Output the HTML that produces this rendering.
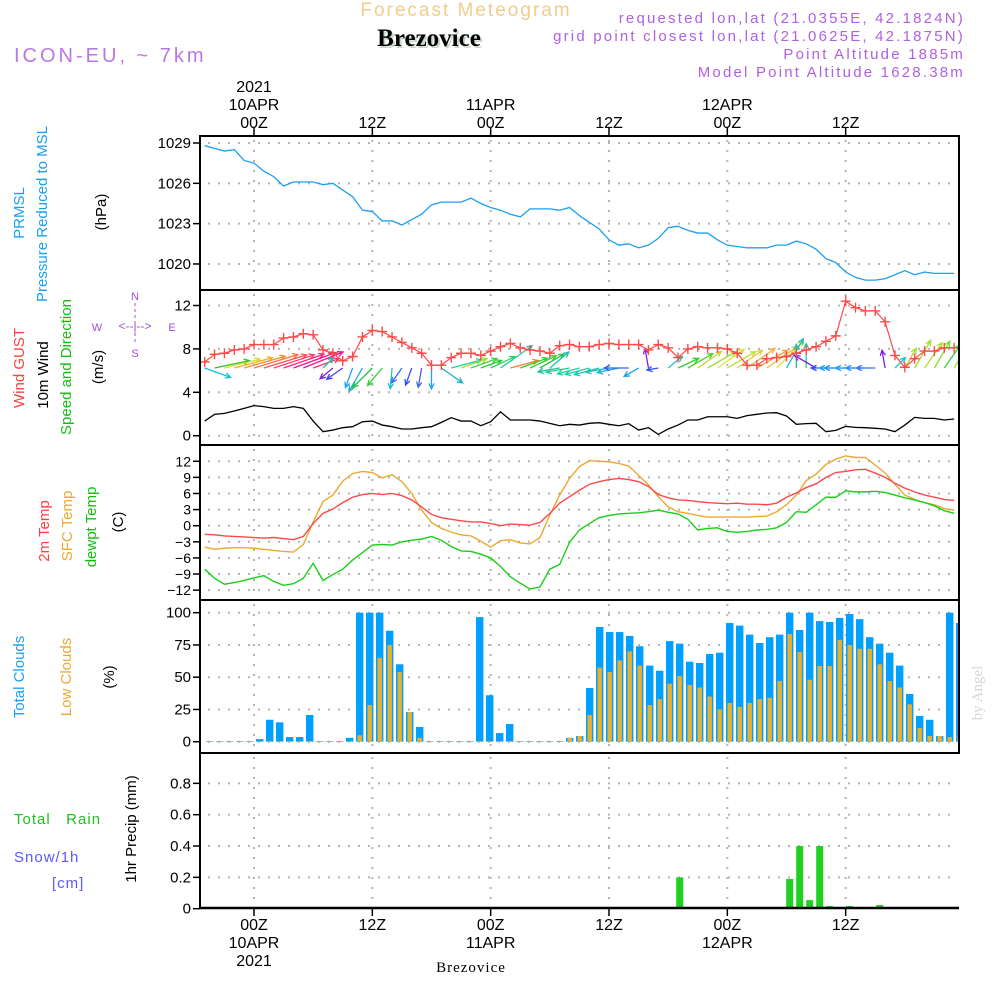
<!DOCTYPE html>
<html><head><meta charset="utf-8">
<style>
html,body{margin:0;padding:0;background:#fff;}
svg{display:block;font-family:"Liberation Sans",sans-serif;}
</style></head>
<body>
<svg id="chart" width="1000" height="1000" viewBox="0 0 1000 1000" xmlns="http://www.w3.org/2000/svg">
<defs><clipPath id="plotclip"><rect x="200" y="130" width="759" height="790"/></clipPath></defs>
<rect x="0" y="0" width="1000" height="1000" fill="#fff"/>
<!-- header -->
<text x="466" y="16" font-size="19" fill="#f2cc8a" text-anchor="middle" letter-spacing="2">Forecast Meteogram</text>
<text x="431" y="48" font-size="25" font-weight="bold" font-family="Liberation Serif,serif" fill="#c8d8c8" text-anchor="middle">Brezovice</text>
<text x="429" y="46" font-size="25" font-weight="bold" font-family="Liberation Serif,serif" fill="#000" text-anchor="middle">Brezovice</text>
<text x="14" y="62" font-size="20" fill="#b878e8" letter-spacing="3">ICON-EU, ~ 7km</text>
<g font-size="15" fill="#b060e0" text-anchor="end" letter-spacing="2.2">
<text x="965" y="23">requested lon,lat (21.0355E, 42.1824N)</text>
<text x="965" y="41">grid point closest lon,lat (21.0625E, 42.1875N)</text>
<text x="965" y="59">Point Altitude 1885m</text>
<text x="965" y="77">Model Point Altitude 1628.38m</text>
</g>
<!-- left labels -->
<g font-size="15">
<text transform="translate(24,213) rotate(-90)" text-anchor="middle" fill="#1aa0f0">PRMSL</text>
<text transform="translate(47,214) rotate(-90)" text-anchor="middle" fill="#1aa0f0">Pressure  Reduced to MSL</text>
<text transform="translate(106,212) rotate(-90)" text-anchor="middle" fill="#000">(hPa)</text>
<text transform="translate(24,368) rotate(-90)" text-anchor="middle" fill="#ff4040">Wind GUST</text>
<text transform="translate(48,375) rotate(-90)" text-anchor="middle" fill="#000">10m Wind</text>
<text transform="translate(71,367) rotate(-90)" text-anchor="middle" fill="#10c010">Speed and Direction</text>
<text transform="translate(103,367) rotate(-90)" text-anchor="middle" fill="#000">(m/s)</text>
<text transform="translate(49,531) rotate(-90)" text-anchor="middle" fill="#ff4040">2m Temp</text>
<text transform="translate(72,526) rotate(-90)" text-anchor="middle" fill="#f0a830">SFC Temp</text>
<text transform="translate(96,527) rotate(-90)" text-anchor="middle" fill="#10c010">dewpt Temp</text>
<text transform="translate(123,522) rotate(-90)" text-anchor="middle" fill="#000">(C)</text>
<text transform="translate(24,677) rotate(-90)" text-anchor="middle" fill="#1aa0f0">Total Clouds</text>
<text transform="translate(71,677) rotate(-90)" text-anchor="middle" fill="#f0a830">Low Clouds</text>
<text transform="translate(114,677) rotate(-90)" text-anchor="middle" fill="#000">(%)</text>
<text transform="translate(136,829) rotate(-90)" text-anchor="middle" fill="#000">1hr Precip (mm)</text>
<text x="14" y="824" fill="#20c020" letter-spacing="1" xml:space="preserve">Total   Rain</text>
<text x="14" y="862" fill="#5a5aff" letter-spacing="1">Snow/1h</text>
<text x="52" y="888" fill="#5a5aff" letter-spacing="1">[cm]</text>
</g>
<g fill="#a050e0" font-size="11" text-anchor="middle">
<text x="135" y="300">N</text><text x="135" y="357">S</text>
<text x="97" y="331">W</text><text x="172" y="331">E</text>
<text x="135" y="330" font-size="12">&lt;--|--&gt;</text>
<line x1="135" y1="303" x2="135" y2="345" stroke="#a050e0" stroke-dasharray="3,3"/>
</g>
<text transform="translate(982,693) rotate(-90)" font-family="Liberation Serif,serif" font-size="15" fill="#d0d8d0" text-anchor="middle">by Angel</text>
<text x="471" y="972" font-family="Liberation Serif,serif" font-size="15" fill="#000" text-anchor="middle" letter-spacing="1">Brezovice</text>
<g id="plot"></g>
</svg>
<script>
// ---- data (hours from 00Z 10APR, -5..71) ----
const hourStart = -5;
const pressure = [1028.8,1028.6,1028.4,1028.5,1027.7,1027.5,1026.9,1026.5,1025.8,1026.1,1026.1,1026.1,1025.9,1026.0,1025.5,1025.0,1024.0,1023.9,1023.2,1023.2,1022.9,1023.3,1023.7,1024.4,1024.6,1024.6,1024.6,1024.9,1024.5,1024.2,1024.0,1023.7,1023.5,1024.1,1024.1,1024.1,1024.0,1024.2,1023.6,1023.1,1022.6,1021.8,1021.4,1021.5,1021.2,1021.4,1021.9,1022.7,1022.8,1022.5,1022.3,1022.3,1021.8,1021.4,1021.3,1021.2,1021.2,1021.2,1021.4,1021.4,1021.7,1021.5,1021.1,1020.4,1020.1,1019.4,1019.0,1018.8,1018.8,1018.9,1019.2,1019.5,1019.2,1019.4,1019.3,1019.3,1019.3];
const windGust = [6.8,7.5,7.6,7.9,8.0,8.4,8.4,8.4,9.0,9.1,9.4,9.3,7.9,7.6,6.9,7.3,9.1,9.7,9.6,9.1,8.6,8.1,7.6,6.5,6.5,7.2,7.6,7.6,7.4,7.8,8.2,8.5,8.1,7.9,7.8,7.6,8.3,8.4,8.2,
8.2,8.4,8.5,8.4,8.4,8.4,7.9,8.4,8.1,7.2,8.0,8.2,8.1,8.1,8.0,7.6,6.5,6.5,7.1,7.2,7.3,7.6,7.9,8.2,8.7,9.2,12.4,11.8,11.5,11.5,10.5,7.4,6.3,7.1,7.8,7.8,8.1,8.1];
const windSpeed = [1.35,1.97,2.06,2.28,2.52,2.77,2.68,2.52,2.52,2.68,2.52,1.35,0.37,0.52,0.74,0.83,1.29,1.35,0.98,0.83,0.62,0.62,0.74,0.83,1.23,1.66,1.35,1.35,0.92,1.29,2.2,1.45,1.45,1.45,1.35,1.14,0.92,1.05,0.98,
1.14,1.2,1.05,0.92,1.11,0.52,0.74,0.12,0.62,0.98,1.45,1.45,1.75,1.75,1.75,1.6,1.85,1.97,2.09,2.12,1.82,1.05,1.11,1.14,0.37,0.49,0.86,0.77,0.74,0.68,0.62,0.37,0.98,1.69,1.6,1.6,1.45,1.54];
const windDirAngle = [-20,12,14,15,16,17,17,18,19,20,22,20,45,220,215,250,240,225,230,265,235,250,260,270,-35,15,20,20,20,25,35,15,20,25,30,40,190,190,195,
195,195,190,192,180,210,100,190,40,25,30,35,30,35,30,35,35,30,35,45,60,90,90,150,180,180,180,180,180,180,100,45,60,60,55,60,55,60];
const arrowColors = ["#10c0e0","#30c030","#d8e020","#f0b030","#f09030","#ff7040","#ff5050","#ff4070","#ff2080","#f01090","#e81898","#ff3070","#20c0a0","#8020e0","#4040ff","#20a0f0","#20b0d0","#20c040","#30d030","#20c0d0","#3070ff","#3050ff","#4060f0","#20a0f0","#20b0d0","#20d0a0","#a0e030","#40d040","#30c840","#30d060","#20c8a0","#f08030","#30d030","#30d030","#30c040","#20c0b0","#20c0a0","#20d090","#20d0a0",
"#20d0a0","#20c0c0","#20c0b0","#20b0d0","#3060ff","#20a0f0","#8020e0","#3050ff","#20c0d0","#30d030","#50d030","#d0d030","#a0e030","#e0e040","#c0e040","#e0d040","#f0b040","#f0a040","#e0c040","#e0e040","#20c0c0","#20c0a0","#20d0a0","#8020e0","#3050ff","#20a0f0","#2090ff","#20a0f0","#2090ff","#3070ff","#8020e0","#20c0d0","#a0e030","#a0e030","#b0e030","#80e030","#30d030","#a0e030"];
const temp2m = [-1.6,-1.7,-1.9,-2.0,-2.1,-2.2,-2.3,-2.2,-2.4,-2.6,-2.0,0.4,2.3,3.1,4.3,5.3,5.8,6.0,5.8,6.0,5.6,4.8,3.5,2.1,1.5,1.2,0.9,0.7,0.7,0.4,0.0,0.3,0.2,0.1,0.6,2.3,4.2,5.4,6.6,
7.7,8.2,8.6,8.8,8.6,8.2,7.3,5.8,5.2,4.8,4.7,4.5,4.3,4.2,4.1,4.2,4.0,4.0,3.9,4.2,5.3,6.1,7.1,7.8,9.0,9.9,10.1,10.4,10.5,9.8,9.0,7.9,7.0,6.3,5.7,5.3,4.9,4.7];
const tempSfc = [-4.0,-4.4,-4.2,-4.1,-4.1,-4.2,-4.4,-4.6,-4.8,-4.9,-3.5,0.7,4.5,5.7,8.3,9.7,10.1,9.9,8.9,9.5,8.2,6.0,2.9,0.6,-0.5,-1.2,-1.7,-1.9,-2.9,-4.0,-2.8,-2.6,-3.2,-3.4,-2.2,2.0,5.7,8.8,11.0,
12.1,12.0,11.9,11.6,11.1,9.4,7.6,5.4,3.5,2.6,2.3,1.9,1.6,1.6,1.6,1.6,1.6,1.7,1.8,2.6,3.9,5.7,8.4,9.6,11.4,12.4,13.0,12.7,12.7,11.3,9.8,7.7,5.7,4.9,4.3,3.9,3.2,2.9];
const dewpoint = [-8.1,-9.8,-10.9,-10.6,-10.2,-9.7,-9.3,-10.4,-11.1,-10.8,-9.8,-7.0,-10.2,-9.1,-8.1,-6.4,-5.0,-3.6,-3.5,-3.6,-3.0,-2.7,-2.5,-2.0,-2.7,-3.9,-4.7,-4.8,-5.3,-6.0,-7.6,-9.5,-10.7,-11.8,-11.4,-8.1,-7.2,-3.1,-0.8,
0.4,1.5,1.9,2.2,2.3,2.4,2.6,2.9,2.5,2.2,1.2,-0.8,-0.5,-0.4,-1.1,-1.2,-1.1,-0.8,-0.7,-0.4,0.6,2.6,2.5,3.9,5.3,5.3,6.5,6.3,6.3,6.4,6.2,5.7,5.2,4.8,4.3,3.7,2.8,2.3];
const totalCloud = [0.5,0.5,0.5,0.5,0.5,2,17,15,3.6,3.6,20.7,0.5,0.5,0.5,3,100,100,100,86,60,23,11.4,0.5,0.5,0.5,0.5,0.5,96.6,36,6.7,13.7,0.5,0.5,0.5,0.5,0.5,3,4.4,41.6,
88.9,85,85,82,74,59,55,78,76,62,61,68,69,92,90,83,76.5,81,83,100,86.6,100,93.5,92.8,96,99,95,81,76,69,59,37,20,17,4.4,100,92];
const lowCloud = [0.5,0.5,0.5,0.5,0.5,0.5,0.5,0.5,0.5,0.5,0.5,0.5,0.5,0.5,0.5,5,28.4,65,75,54,23,3,0.5,0.5,0.5,0.5,0.5,0.5,0.5,0.5,0.5,0.5,0.5,0.5,0.5,0.5,3,4.4,20.7,
57.4,54,63,70,59,28.4,33,45,51,44,42,35,25,30,27,30,33,34,47,83.5,69.5,48,58.7,58.7,79,75,72,72,60,47,42,29,10.6,4.4,4.4,3.6,5];
const precip = [0,0,0,0,0,0,0,0,0,0,0,0,0,0,0,0,0,0,0,0,0,0,0,0,0,0,0,0,0,0,0,0,0,0,0,0,0,0,0,0,0,0,0,0,0,0,0,0.2,0,0,0,0,0,0,0,0,0,0,0.19,0.4,0.055,0.4,0.017,0,0.017,0,0,0.023,0,0,0,0,0,0,0,0];
const pressureTicks = [1029,1026,1023,1020];
const windTicks = [12,8,4,0];
const tempTicks = [12,9,6,3,0,-3,-6,-9,-12];
const cloudTicks = [100,75,50,25,0];
const precipTicks = [0.8,0.6,0.4,0.2,0];
const timeTicks = [0,12,24,36,48,60];
const timeLabels = ["00Z","12Z","00Z","12Z","00Z","12Z"];
const dateLabels = ["10APR","","11APR","","12APR",""];

// ---- axis functions ----
const xh = h => 254 + 9.861 * h;
const xb = i => 209.7 + 10 * i;
const yP = p => 143 + (1029 - p) * 13.44;
const yW = v => 435.7 - v * 10.85;
const yT = t => 525.7 - t * 5.37;
const yC = c => 741.7 - c * 1.29;
const yR = r => 908.7 - r * 156.7;

const NS = "http://www.w3.org/2000/svg";
const plot = document.getElementById("plot");
function mk(tag, attrs, parent) {
  const e = document.createElementNS(NS, tag);
  for (const k in attrs) e.setAttribute(k, attrs[k]);
  (parent || plot).appendChild(e);
  return e;
}
const L = 200, R = 959;
const panels = [
  {name:"pressure", top:136, bot:290, ticks:pressureTicks, y:yP, fmt:v=>String(v)},
  {name:"wind", top:290, bot:445, ticks:windTicks, y:yW, fmt:v=>String(v)},
  {name:"temperature", top:445, bot:600, ticks:tempTicks, y:yT, fmt:v=>v<0?"\u2212"+(-v):String(v)},
  {name:"clouds", top:600, bot:753, ticks:cloudTicks, y:yC, fmt:v=>String(v)},
  {name:"precip", top:753, bot:908, ticks:precipTicks, y:yR, fmt:v=>v===0?"0":v.toFixed(1)}
];

panels.forEach(p => {
  const g = mk("g", {});
  
  
  p.ticks.forEach(v => {
    const y = p.y(v);
    if (v !== 0 || p.name !== "precip") mk("line", {x1:L+8, x2:R-2, y1:y, y2:y, stroke:"#b4b4b4", "stroke-width":2, "stroke-dasharray":"2,8"}, g);
    mk("line", {x1:L-7, x2:L, y1:y, y2:y, stroke:"#000", "stroke-width":1.5}, g);
    const t = mk("text", {x:L-9, y:y+5, "font-size": p.name==="temperature"?14:15, "text-anchor":"end", fill:"#000"}, g);
    t.textContent = p.fmt(v);
  });
  timeTicks.forEach(h => {
    mk("line", {x1:xh(h), x2:xh(h), y1:p.top+4, y2:p.bot-2, stroke:"#b4b4b4", "stroke-width":2, "stroke-dasharray":"2,8"}, g);
  });
});

const pl = mk("polyline", {points: pressure.map((v,i)=>xh(hourStart+i)+","+yP(v)).join(" "), fill:"none", stroke:"#1aa0f0", "stroke-width":1.3});



const ws = mk("polyline", {points: windSpeed.map((v,i)=>xh(hourStart+i)+","+yW(v)).join(" "), fill:"none", stroke:"#000", "stroke-width":1.3});



const ag = mk("g", {"clip-path":"url(#plotclip)"});


windDirAngle.forEach((a,i) => {
  const x0 = xh(hourStart+i), y0 = 368;
  const len = 10 + 13 * windSpeed[i];
  const r = a * Math.PI / 180;
  const x1 = x0 + len*Math.cos(r), y1 = y0 - len*Math.sin(r);
  const c = arrowColors[i];
  const hl = 6;
  const h1 = r + Math.PI - 0.45, h2 = r + Math.PI + 0.45;
  const e = mk("path", {d:`M${x0},${y0}L${x1},${y1}M${x1+hl*Math.cos(h1)},${y1-hl*Math.sin(h1)}L${x1},${y1}L${x1+hl*Math.cos(h2)},${y1-hl*Math.sin(h2)}`, stroke:c, "stroke-width":1.3, fill:"none"}, ag);
  
  
});

const gl = mk("polyline", {points: windGust.map((v,i)=>xh(hourStart+i)+","+yW(v)).join(" "), fill:"none", stroke:"#ff4848", "stroke-width":1.2});


windGust.forEach((v,i) => {
  const x = xh(hourStart+i), y = yW(v);
  const m = mk("path", {d:`M${x-5},${y}H${x+5}M${x},${y-5}V${y+5}`, stroke:"#ff4848", "stroke-width":1.4});
  
  
});

[[tempSfc,"#eda830","sfc-temp-line"],[temp2m,"#ff4848","temp-2m-line"],[dewpoint,"#18d018","dewpoint-line"]].forEach(([arr,c,n]) => {
  const e = mk("polyline", {points: arr.map((v,i)=>xh(hourStart+i)+","+yT(v)).join(" "), fill:"none", stroke:c, "stroke-width":1.4});
  
  
});

const cg = mk("g", {"clip-path":"url(#plotclip)"});


totalCloud.forEach((v,i) => {
  const x = xb(i);
  const b = mk("rect", {x:x-3.7, y:yC(v), width:7.4, height:yC(0)-yC(v), fill:"#00a0ff"}, cg);
  
  
  const lv = lowCloud[i];
  const o = mk("rect", {x:x-2.2, y:yC(lv), width:4.4, height:yC(0)-yC(lv), fill:"#e8b030"}, cg);
  
  
});

precip.forEach((v,i) => {
  if (v <= 0) return;
  const x = xb(i);
  const b = mk("rect", {x:x-3.5, y:yR(v), width:7, height:yR(0)-yR(v), fill:"#20d020"});
  
  
});

const fg = mk("g", {stroke:"#000", "stroke-width":2, fill:"none"});


mk("rect", {x:L, y:136, width:R-L, height:617}, fg);
[290,445,600].forEach(y => mk("line", {x1:L, x2:R, y1:y, y2:y}, fg));
mk("line", {x1:L, x2:L, y1:753, y2:908}, fg);
mk("line", {x1:L, x2:R, y1:908, y2:908, "stroke-width":2.5}, fg);

const tg = mk("g", {"font-size":16, "text-anchor":"middle", fill:"#000"});


timeTicks.forEach((h,k) => {
  const x = xh(h);
  mk("line", {x1:x, x2:x, y1:128, y2:136, stroke:"#000", "stroke-width":1.5}, tg);
  mk("line", {x1:x, x2:x, y1:908, y2:916, stroke:"#000", "stroke-width":1.5}, tg);
  mk("text", {x:x, y:128}, tg).textContent = timeLabels[k];
  mk("text", {x:x, y:930}, tg).textContent = timeLabels[k];
  if (dateLabels[k]) {
    mk("text", {x:x, y:110}, tg).textContent = dateLabels[k];
    mk("text", {x:x, y:948}, tg).textContent = dateLabels[k];
  }
  if (k === 0) {
    mk("text", {x:x, y:92}, tg).textContent = "2021";
    mk("text", {x:x, y:966}, tg).textContent = "2021";
  }
});
</script>
</body></html>
